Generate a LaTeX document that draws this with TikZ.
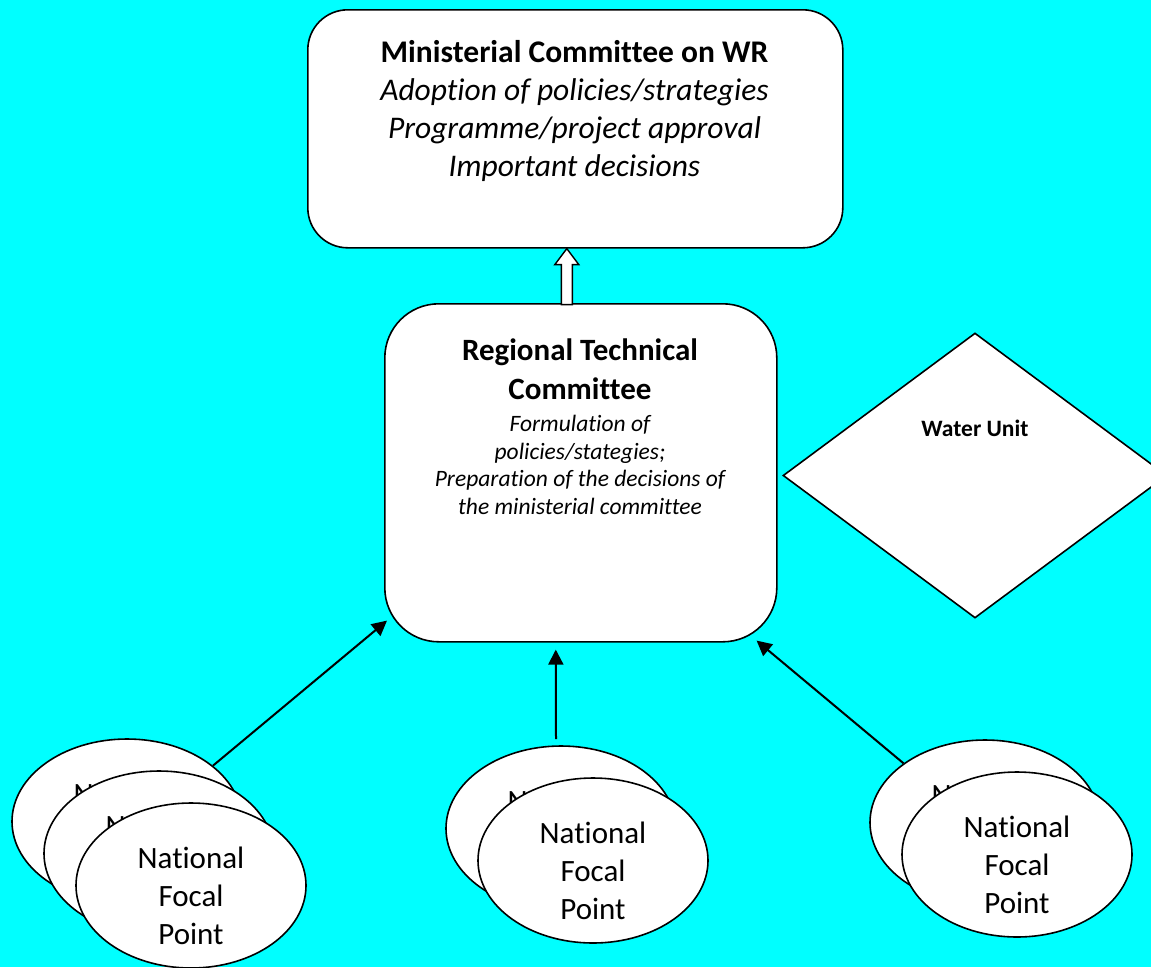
\documentclass[tikz,border=0pt]{standalone}
\usepackage{fontspec}
\setmainfont{Carlito}[Ligatures=NoCommon]
\usetikzlibrary{arrows.meta,shapes.geometric}
\definecolor{bgcyan}{RGB}{0,255,255}
\begin{document}
\begin{tikzpicture}[x=1pt,y=-1pt,
  box/.style={draw=black, line width=1.6pt, fill=white, inner sep=0pt, anchor=north west},
  fpe/.style={ellipse, draw=black, line width=1.6pt, fill=white, inner sep=0pt, minimum width=230pt, minimum height=165pt},
  fpt/.style={align=center, inner sep=0pt, font=\fontsize{31}{38}\selectfont},
  conn/.style={line width=2pt, -{Triangle[width=15pt,length=15pt]}},
  hollow/.style={draw=black, line width=1.4pt, fill=white, line join=miter}
]
\clip (0,0) rectangle (1151,967);
\fill[bgcyan] (0,0) rectangle (1151,967);

% top box
\node[box, rounded corners=40pt, minimum width=535pt, minimum height=238pt] (mc) at (307,9) {};
\node[align=center, inner sep=0pt, font=\fontsize{31.5}{38}\selectfont] (mct) at (574.5,111)
  {\textbf{Ministerial Committee on WR}\\\textit{Adoption of policies/strategies}\\\textit{Programme/project approval}\\\textit{Important decisions}};

% regional technical committee
\node[box, rounded corners=54pt, minimum width=392pt, minimum height=338pt] (rtc) at (384,303) {};
\node[align=center, inner sep=0pt, font=\fontsize{31}{39}\selectfont\bfseries] (rtct) at (580,369)
  {Regional Technical\\Committee};
\node[align=center, inner sep=0pt, font=\fontsize{23.5}{27.5}\selectfont\itshape] (rtcd) at (580,465)
  {Formulation of\\policies/stategies;\\Preparation of the decisions of\\the ministerial committee};

% hollow arrow
\draw[hollow] ([xshift=-8.5pt]mc.south) -- ++(12,16) -- ++(-6.5,0) -- ++(0,40) -- ++(-11,0) -- ++(0,-40) -- ++(-6.5,0) -- cycle;

% water unit
\node[diamond, draw=black, line width=1.6pt, fill=white, inner sep=0pt, minimum width=384pt, minimum height=285pt] (wu) at (975,475.5) {};
\node[inner sep=0pt, font=\fontsize{23.5}{28}\selectfont\bfseries] (wut) at (975,428) {Water Unit};

% national focal points
\node[fpe] (l1) at (127,821.5) {};
\node[fpe] (m1) at (561,828.5) {};
\node[fpe] (r1) at (985,822.5) {};

\draw[conn] (l1.33) -- ([shift={(3,-22)}]rtc.south west);
\draw[conn] ([shift={(-5,-6)}]m1.north) -- ([shift={(-25,7)}]rtc.south);
\draw[conn] (r1.144) -- ([shift={(-21,-2)}]rtc.south east);

\node[fpt] (l1t) at (127,831.5) {National\\Focal\\Point};
\node[fpe] (l2) at (159,853.5) {};
\node[fpt] (l2t) at (159,863.5) {National\\Focal\\Point};
\node[fpe] (l3) at (191,885.5) {};
\node[fpt] (l3t) at (191,895.5) {National\\Focal\\Point};

\node[fpt] (m1t) at (561,838.5) {National\\Focal\\Point};
\node[fpe] (m2) at (593,860.5) {};
\node[fpt] (m2t) at (593,870.5) {National\\Focal\\Point};

\node[fpt] (r1t) at (985,832.5) {National\\Focal\\Point};
\node[fpe] (r2) at (1017,854.5) {};
\node[fpt] (r2t) at (1017,864.5) {National\\Focal\\Point};
\end{tikzpicture}
\end{document}
